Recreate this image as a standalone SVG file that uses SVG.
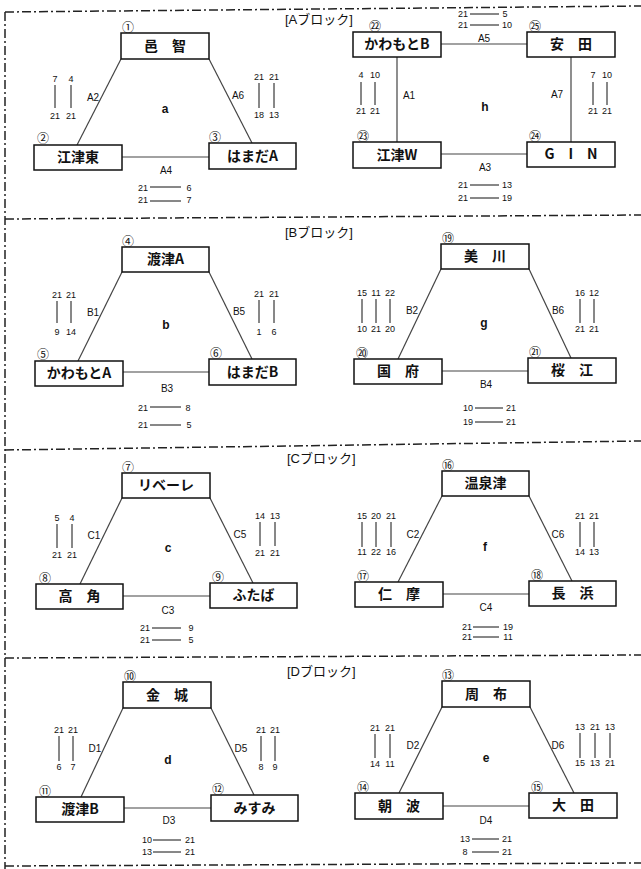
<svg xmlns="http://www.w3.org/2000/svg" width="641" height="869" viewBox="0 0 641 869">
<style>
.box{fill:#fff;stroke:#111;stroke-width:1.5}
.nm{font-family:"Noto Sans CJK JP",sans-serif;font-size:14px;font-weight:bold;text-anchor:middle;fill:#111}
.num{font-family:"Noto Sans CJK JP",sans-serif;font-size:12px;text-anchor:middle;fill:#111}
.lbl{font-family:"Liberation Sans",sans-serif;font-size:10px;text-anchor:middle;fill:#111}
.grp{font-family:"Liberation Sans",sans-serif;font-size:12px;font-weight:bold;text-anchor:middle;fill:#111}
.sc{font-family:"Liberation Sans",sans-serif;font-size:9px;text-anchor:middle;fill:#111}
.edge{stroke:#444;stroke-width:1.2;fill:none}
.tick{stroke:#111;stroke-width:1;fill:none}
.border{stroke:#222;stroke-width:1.5;stroke-dasharray:9 3 2 3;fill:none}
.title{font-family:"Liberation Sans","Noto Sans CJK JP",sans-serif;font-size:13px;fill:#111}
</style>
<rect width="641" height="869" fill="#fff"/>
<g id="frame">
<path class="border" d="M5,12 L641,6"/>
<path class="border" d="M5,12 L5,869"/>
<path class="border" d="M5,219 L641,215"/>
<path class="border" d="M5,450 L641,441"/>
<path class="border" d="M5,658 L641,655"/>
<path class="border" d="M5,866 L641,863"/>
</g>
<g id="titles">
<text class="title" x="285" y="24">[Aブロック]</text>
<text class="title" x="285" y="237">[Bブロック]</text>
<text class="title" x="287" y="463">[Cブロック]</text>
<text class="title" x="287" y="676">[Dブロック]</text>
</g>
<g id="connectors">
<line class="edge" x1="121" y1="59" x2="77" y2="145"/>
<line class="edge" x1="209" y1="59" x2="252" y2="143"/>
<line class="edge" x1="122" y1="157" x2="209" y2="157"/>
<line class="edge" x1="441" y1="44" x2="527" y2="44"/>
<line class="edge" x1="397" y1="57" x2="397" y2="142"/>
<line class="edge" x1="571" y1="57" x2="571" y2="142"/>
<line class="edge" x1="441" y1="154" x2="527" y2="154"/>
<line class="edge" x1="122" y1="272" x2="78" y2="361"/>
<line class="edge" x1="209" y1="272" x2="252" y2="359"/>
<line class="edge" x1="123" y1="372" x2="209" y2="372"/>
<line class="edge" x1="441" y1="269" x2="398" y2="359"/>
<line class="edge" x1="529" y1="269" x2="571" y2="358"/>
<line class="edge" x1="442" y1="371" x2="528" y2="371"/>
<line class="edge" x1="122" y1="498" x2="80" y2="584"/>
<line class="edge" x1="210" y1="498" x2="253" y2="583"/>
<line class="edge" x1="123" y1="596" x2="210" y2="596"/>
<line class="edge" x1="442" y1="496" x2="398" y2="582"/>
<line class="edge" x1="529" y1="496" x2="572" y2="581"/>
<line class="edge" x1="443" y1="594" x2="529" y2="594"/>
<line class="edge" x1="123" y1="708" x2="81" y2="797"/>
<line class="edge" x1="211" y1="708" x2="254" y2="795"/>
<line class="edge" x1="124" y1="808" x2="211" y2="808"/>
<line class="edge" x1="442" y1="707" x2="399" y2="793"/>
<line class="edge" x1="530" y1="707" x2="574" y2="793"/>
<line class="edge" x1="443" y1="806" x2="529" y2="806"/>
<text class="lbl" x="93" y="101">A2</text>
<text class="lbl" x="238" y="99">A6</text>
<text class="lbl" x="166" y="174">A4</text>
<text class="lbl" x="484" y="42">A5</text>
<text class="lbl" x="409" y="99">A1</text>
<text class="lbl" x="557" y="98">A7</text>
<text class="lbl" x="485" y="171">A3</text>
<text class="lbl" x="93" y="316">B1</text>
<text class="lbl" x="239" y="315">B5</text>
<text class="lbl" x="167" y="392">B3</text>
<text class="lbl" x="412" y="314">B2</text>
<text class="lbl" x="558" y="314">B6</text>
<text class="lbl" x="486" y="388">B4</text>
<text class="lbl" x="94" y="539">C1</text>
<text class="lbl" x="240" y="538">C5</text>
<text class="lbl" x="168" y="614">C3</text>
<text class="lbl" x="413" y="538">C2</text>
<text class="lbl" x="558" y="538">C6</text>
<text class="lbl" x="486" y="611">C4</text>
<text class="lbl" x="95" y="752">D1</text>
<text class="lbl" x="241" y="752">D5</text>
<text class="lbl" x="169" y="824">D3</text>
<text class="lbl" x="413" y="749">D2</text>
<text class="lbl" x="558" y="749">D6</text>
<text class="lbl" x="486" y="824">D4</text>
</g>
<g id="groups">
<text class="grp" x="165" y="113">a</text>
<text class="grp" x="485" y="111">h</text>
<text class="grp" x="166" y="329">b</text>
<text class="grp" x="484" y="327">g</text>
<text class="grp" x="168" y="552">c</text>
<text class="grp" x="485" y="551">f</text>
<text class="grp" x="168" y="764">d</text>
<text class="grp" x="486" y="762">e</text>
</g>
<g id="n1"><rect class="box" x="121" y="33" width="88" height="26"/><text class="nm" x="165" y="51">邑　智</text><text class="num" x="128" y="32">①</text></g>
<g id="n2"><rect class="box" x="34" y="145" width="88" height="25"/><text class="nm" x="78" y="162">江津東</text><text class="num" x="43" y="143">②</text></g>
<g id="n3"><rect class="box" x="209" y="143" width="87" height="26"/><text class="nm" x="252.5" y="161">はまだA</text><text class="num" x="215" y="142">③</text></g>
<g id="n22"><rect class="box" x="353" y="32" width="88" height="25"/><text class="nm" x="397" y="49">かわもとB</text><text class="num" x="375" y="31">㉒</text></g>
<g id="n25"><rect class="box" x="527" y="32" width="88" height="25"/><text class="nm" x="571" y="49">安　田</text><text class="num" x="535" y="31">㉕</text></g>
<g id="n23"><rect class="box" x="353" y="142" width="88" height="26"/><text class="nm" x="397" y="160">江津W</text><text class="num" x="363" y="141">㉓</text></g>
<g id="n24"><rect class="box" x="527" y="142" width="88" height="25"/><text class="nm" x="571" y="159">G　I　N</text><text class="num" x="535" y="141">㉔</text></g>
<g id="n4"><rect class="box" x="122" y="247" width="87" height="25"/><text class="nm" x="165.5" y="264">渡津A</text><text class="num" x="128" y="246">④</text></g>
<g id="n5"><rect class="box" x="35" y="361" width="88" height="25"/><text class="nm" x="79" y="378">かわもとA</text><text class="num" x="43" y="359">⑤</text></g>
<g id="n6"><rect class="box" x="209" y="359" width="87" height="26"/><text class="nm" x="252.5" y="377">はまだB</text><text class="num" x="216" y="358">⑥</text></g>
<g id="n19"><rect class="box" x="441" y="244" width="88" height="25"/><text class="nm" x="485" y="261">美　川</text><text class="num" x="448" y="243">⑲</text></g>
<g id="n20"><rect class="box" x="354" y="359" width="88" height="25"/><text class="nm" x="398" y="376">国　府</text><text class="num" x="362" y="358">⑳</text></g>
<g id="n21"><rect class="box" x="528" y="358" width="88" height="25"/><text class="nm" x="572" y="375">桜　江</text><text class="num" x="535" y="357">㉑</text></g>
<g id="n7"><rect class="box" x="122" y="473" width="88" height="25"/><text class="nm" x="166" y="490">リベーレ</text><text class="num" x="128" y="472">⑦</text></g>
<g id="n8"><rect class="box" x="36" y="584" width="87" height="25"/><text class="nm" x="79.5" y="601">高　角</text><text class="num" x="45" y="583">⑧</text></g>
<g id="n9"><rect class="box" x="210" y="583" width="87" height="25"/><text class="nm" x="253.5" y="600">ふたば</text><text class="num" x="218" y="582">⑨</text></g>
<g id="n16"><rect class="box" x="442" y="471" width="87" height="25"/><text class="nm" x="485.5" y="488">温泉津</text><text class="num" x="448" y="470">⑯</text></g>
<g id="n17"><rect class="box" x="355" y="582" width="88" height="25"/><text class="nm" x="399" y="599">仁　摩</text><text class="num" x="363" y="581">⑰</text></g>
<g id="n18"><rect class="box" x="529" y="581" width="87" height="25"/><text class="nm" x="572.5" y="598">長　浜</text><text class="num" x="537" y="580">⑱</text></g>
<g id="n10"><rect class="box" x="123" y="682" width="88" height="26"/><text class="nm" x="167" y="700">金　城</text><text class="num" x="130" y="681">⑩</text></g>
<g id="n11"><rect class="box" x="36" y="797" width="88" height="25"/><text class="nm" x="80" y="814">渡津B</text><text class="num" x="45" y="796">⑪</text></g>
<g id="n12"><rect class="box" x="211" y="795" width="87" height="26"/><text class="nm" x="254.5" y="813">みすみ</text><text class="num" x="218" y="794">⑫</text></g>
<g id="n13"><rect class="box" x="442" y="681" width="88" height="26"/><text class="nm" x="486" y="699">周　布</text><text class="num" x="448" y="680">⑬</text></g>
<g id="n14"><rect class="box" x="355" y="793" width="88" height="26"/><text class="nm" x="399" y="811">朝　波</text><text class="num" x="363" y="792">⑭</text></g>
<g id="n15"><rect class="box" x="529" y="793" width="88" height="25"/><text class="nm" x="573" y="810">大　田</text><text class="num" x="537" y="792">⑮</text></g>
<g id="scores">
<text class="sc" x="55" y="82">7</text><text class="sc" x="71" y="82">4</text>
<path class="tick" d="M55,85V108M71,85V108"/>
<text class="sc" x="55" y="119">21</text><text class="sc" x="71" y="119">21</text>
<text class="sc" x="259" y="80">21</text><text class="sc" x="274" y="80">21</text>
<path class="tick" d="M259,83V108M274,83V108"/>
<text class="sc" x="259" y="118">18</text><text class="sc" x="274" y="118">13</text>
<text class="sc" x="143" y="191">21</text><line class="tick" x1="150" y1="187" x2="181" y2="187"/><text class="sc" x="189" y="191">6</text>
<text class="sc" x="143" y="203">21</text><line class="tick" x1="150" y1="201" x2="181" y2="201"/><text class="sc" x="189" y="203">7</text>
<text class="sc" x="463" y="17">21</text><line class="tick" x1="470" y1="14" x2="499" y2="14"/><text class="sc" x="505" y="17">5</text>
<text class="sc" x="463" y="28">21</text><line class="tick" x1="470" y1="25" x2="499" y2="25"/><text class="sc" x="507" y="28">10</text>
<text class="sc" x="361" y="78">4</text><text class="sc" x="375" y="78">10</text>
<path class="tick" d="M361,82V105M375,82V105"/>
<text class="sc" x="361" y="114">21</text><text class="sc" x="375" y="114">21</text>
<text class="sc" x="593" y="78">7</text><text class="sc" x="607" y="78">10</text>
<path class="tick" d="M593,82V105M607,82V105"/>
<text class="sc" x="593" y="114">21</text><text class="sc" x="607" y="114">21</text>
<text class="sc" x="463" y="188">21</text><line class="tick" x1="470" y1="185" x2="499" y2="185"/><text class="sc" x="507" y="188">13</text>
<text class="sc" x="463" y="201">21</text><line class="tick" x1="470" y1="198" x2="499" y2="198"/><text class="sc" x="507" y="201">19</text>
<text class="sc" x="57" y="298">21</text><text class="sc" x="71" y="298">21</text>
<path class="tick" d="M57,301V323M71,301V323"/>
<text class="sc" x="57" y="335">9</text><text class="sc" x="71" y="335">14</text>
<text class="sc" x="259" y="297">21</text><text class="sc" x="274" y="297">21</text>
<path class="tick" d="M259,300V323M274,300V323"/>
<text class="sc" x="259" y="335">1</text><text class="sc" x="274" y="335">6</text>
<text class="sc" x="143" y="411">21</text><line class="tick" x1="150" y1="407" x2="181" y2="407"/><text class="sc" x="188" y="411">8</text>
<text class="sc" x="143" y="428">21</text><line class="tick" x1="150" y1="425" x2="181" y2="425"/><text class="sc" x="189" y="428">5</text>
<text class="sc" x="362" y="296">15</text><text class="sc" x="376" y="296">11</text><text class="sc" x="390" y="296">22</text>
<path class="tick" d="M362,299V323M376,299V323M390,299V323"/>
<text class="sc" x="362" y="332">10</text><text class="sc" x="376" y="332">21</text><text class="sc" x="390" y="332">20</text>
<text class="sc" x="580" y="296">16</text><text class="sc" x="594" y="296">12</text>
<path class="tick" d="M580,299V323M594,299V323"/>
<text class="sc" x="580" y="332">21</text><text class="sc" x="594" y="332">21</text>
<text class="sc" x="468" y="411">10</text><line class="tick" x1="475" y1="408" x2="503" y2="408"/><text class="sc" x="511" y="411">21</text>
<text class="sc" x="468" y="425">19</text><line class="tick" x1="475" y1="422" x2="503" y2="422"/><text class="sc" x="511" y="425">21</text>
<text class="sc" x="57" y="521">5</text><text class="sc" x="72" y="521">4</text>
<path class="tick" d="M57,524V548M72,524V548"/>
<text class="sc" x="57" y="558">21</text><text class="sc" x="72" y="558">21</text>
<text class="sc" x="260" y="519">14</text><text class="sc" x="275" y="519">13</text>
<path class="tick" d="M260,522V546M275,522V546"/>
<text class="sc" x="260" y="556">21</text><text class="sc" x="275" y="556">21</text>
<text class="sc" x="145" y="631">21</text><line class="tick" x1="152" y1="628" x2="181" y2="628"/><text class="sc" x="191" y="631">9</text>
<text class="sc" x="145" y="643">21</text><line class="tick" x1="152" y1="640" x2="181" y2="640"/><text class="sc" x="191" y="643">5</text>
<text class="sc" x="362" y="519">15</text><text class="sc" x="376" y="519">20</text><text class="sc" x="391" y="519">21</text>
<path class="tick" d="M362,522V547M376,522V547M391,522V547"/>
<text class="sc" x="362" y="555">11</text><text class="sc" x="376" y="555">22</text><text class="sc" x="391" y="555">16</text>
<text class="sc" x="580" y="519">21</text><text class="sc" x="594" y="519">21</text>
<path class="tick" d="M580,522V547M594,522V547"/>
<text class="sc" x="580" y="555">14</text><text class="sc" x="594" y="555">13</text>
<text class="sc" x="467" y="630">21</text><line class="tick" x1="473" y1="627" x2="499" y2="627"/><text class="sc" x="508" y="630">19</text>
<text class="sc" x="467" y="640">21</text><line class="tick" x1="473" y1="637" x2="499" y2="637"/><text class="sc" x="508" y="640">11</text>
<text class="sc" x="59" y="733">21</text><text class="sc" x="73" y="733">21</text>
<path class="tick" d="M59,736V761M73,736V761"/>
<text class="sc" x="59" y="770">6</text><text class="sc" x="73" y="770">7</text>
<text class="sc" x="261" y="733">21</text><text class="sc" x="275" y="733">21</text>
<path class="tick" d="M261,736V761M275,736V761"/>
<text class="sc" x="261" y="770">8</text><text class="sc" x="275" y="770">9</text>
<text class="sc" x="147" y="843">10</text><line class="tick" x1="153" y1="840" x2="181" y2="840"/><text class="sc" x="190" y="843">21</text>
<text class="sc" x="147" y="855">13</text><line class="tick" x1="153" y1="852" x2="181" y2="852"/><text class="sc" x="190" y="855">21</text>
<text class="sc" x="375" y="731">21</text><text class="sc" x="390" y="731">21</text>
<path class="tick" d="M375,734V758M390,734V758"/>
<text class="sc" x="375" y="767">14</text><text class="sc" x="390" y="767">11</text>
<text class="sc" x="580" y="730">13</text><text class="sc" x="595" y="730">21</text><text class="sc" x="610" y="730">13</text>
<path class="tick" d="M580,733V758M595,733V758M610,733V758"/>
<text class="sc" x="580" y="766">15</text><text class="sc" x="595" y="766">13</text><text class="sc" x="610" y="766">21</text>
<text class="sc" x="465" y="842">13</text><line class="tick" x1="472" y1="839" x2="499" y2="839"/><text class="sc" x="507" y="842">21</text>
<text class="sc" x="465" y="855">8</text><line class="tick" x1="472" y1="852" x2="499" y2="852"/><text class="sc" x="507" y="855">21</text>
</g>
</svg>
